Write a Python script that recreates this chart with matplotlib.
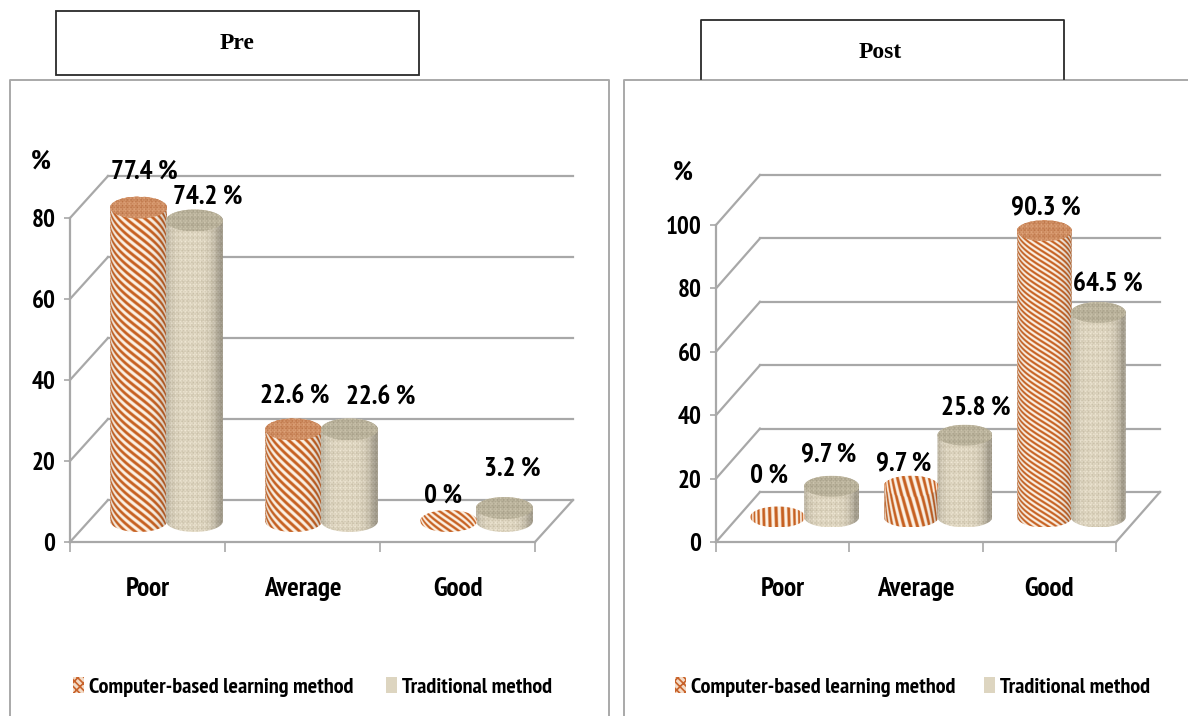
import numpy as np
import matplotlib
matplotlib.use("Agg")
import matplotlib.pyplot as plt
from matplotlib.patches import PathPatch, Patch, Rectangle
from matplotlib.path import Path

plt.rcParams['font.family'] = ['PT Sans Narrow', 'Liberation Sans', 'DejaVu Sans']
plt.rcParams['font.weight'] = 'bold'
plt.rcParams['hatch.linewidth'] = 1.2

categories = ["Poor", "Average", "Good"]
pre_computer = [77.4, 22.6, 0]
pre_traditional = [74.2, 22.6, 3.2]
post_computer = [0, 9.7, 90.3]
post_traditional = [9.7, 25.8, 64.5]
pre_ticks = [0, 20, 40, 60, 80]
post_ticks = [0, 20, 40, 60, 80, 100]
series_names = ["Computer-based learning method", "Traditional method"]

W, H = 1188, 716
GRID = "#A8A8A8"
ORANGE = np.array([0.78, 0.38, 0.13])
CREAM = np.array([0.99, 0.95, 0.90])


def px_rect(x0, x1, y_bottom, y_top):
    return [x0 / W, 1 - y_bottom / H, (x1 - x0) / W, (y_bottom - y_top) / H]


def stripes(nx, ny, angle, period, step=0.5):
    # stripe pattern wrapped round the cylinder, sizes in screen pixels
    u = np.linspace(-0.995, 0.995, nx)
    x = np.arcsin(u) * nx * step / 2
    y = np.arange(ny) * step
    xx, yy = np.meshgrid(x, y)
    a = np.radians(angle)
    t = 0.5 + 0.5 * np.sin(2 * np.pi * (-xx * np.sin(a) + yy * np.cos(a)) / period)
    return np.clip((t - 0.5) * 2.0 + 0.47, 0, 1)


def weave(nx, ny, step=0.5):
    # woven look: fine crossing threads plus some thicker ones
    x = np.arange(nx) * step
    y = np.arange(ny) * step
    xx, yy = np.meshgrid(x, y)
    a = np.sin(2 * np.pi * xx / 3.3) * np.sin(2 * np.pi * yy / 3.7)
    bx = np.sin(2 * np.pi * xx / 7.3) * np.sin(2 * np.pi * xx / 2.9)
    by = np.sin(2 * np.pi * yy / 6.1) * np.sin(2 * np.pi * yy / 3.1)
    return np.clip(0.55 + 0.25 * a + 0.2 * bx + 0.2 * by, 0, 1)


def side_shade(nx, ny, low=0.72):
    u = np.linspace(-1, 1, nx)
    s = low + (1 - low) * np.clip(1 - (u + 0.12) ** 4, 0, 1)
    return np.tile(s[None, :, None], (ny, 1, 1))


def body_texture(kind, nx, ny, angle, period):
    if kind == 0:
        t = stripes(nx, ny, angle, period)[..., None]
        img = CREAM * (1 - t) + ORANGE * t
        return np.clip(img * side_shade(nx, ny, 0.86), 0, 1)
    t = weave(nx, ny)[..., None]
    img = np.array([0.74, 0.70, 0.60]) * (1 - t) + np.array([0.97, 0.94, 0.87]) * t
    return np.clip(img * side_shade(nx, ny, 0.74), 0, 1)


def top_texture(kind, nx, ny, angle, period, plain_stripes):
    if kind == 0 and plain_stripes:
        t = stripes(nx, ny, angle, period)[..., None]
        return CREAM * (1 - t) + ORANGE * t
    t = weave(nx, ny)[..., None]
    if kind == 0:
        return np.array([0.70, 0.40, 0.22]) * (1 - t) + np.array([0.90, 0.68, 0.52]) * t
    return np.array([0.60, 0.57, 0.48]) * (1 - t) + np.array([0.83, 0.80, 0.71]) * t


def cylinder(ax, fig, xc, hw, y0, value, ry, kind, angle, period, plain_top):
    # body and lid are textured images clipped to the cylinder outline
    th = np.linspace(0, np.pi, 60)
    y1 = y0 + value
    sx = ax.transData.transform((1, 0))[0] - ax.transData.transform((0, 0))[0]
    sy = ax.transData.transform((0, 1))[1] - ax.transData.transform((0, 0))[1]
    nx = max(int(2 * hw * sx * 2), 2)
    if value > 0:
        bx = np.r_[xc - hw * np.cos(th), xc + hw * np.cos(th)]
        by = np.r_[y0 - ry * np.sin(th), y1 + ry * np.sin(th)]
        ny = max(int((value + 2 * ry) * sy * 2), 2)
        im = ax.imshow(body_texture(kind, nx, ny, angle, period), aspect='auto',
                       extent=(xc - hw, xc + hw, y0 - ry, y1 + ry), zorder=3,
                       interpolation='antialiased')
        im.set_clip_box(fig.bbox)
        im.set_clip_path(PathPatch(Path(np.c_[bx, by]), transform=ax.transData))
    th = np.linspace(0, 2 * np.pi, 90)
    ny = max(int(2 * ry * sy * 2), 2)
    im = ax.imshow(top_texture(kind, nx, ny, angle, period, plain_top), aspect='auto',
                   extent=(xc - hw, xc + hw, y1 - ry, y1 + ry), zorder=3.1,
                   interpolation='antialiased')
    im.set_clip_box(fig.bbox)
    im.set_clip_path(PathPatch(Path(np.c_[xc + hw * np.cos(th), y1 + ry * np.sin(th)]),
                               transform=ax.transData))


def panel(fig, rect_px, ymax, ticks, computer, traditional, depth_px, hw_px, ry_px,
          stripe_style, label_offsets, legend_at, col_space):
    x0, x1, yb, yt = rect_px
    ax = fig.add_axes(px_rect(x0, x1, yb, yt), facecolor='none', zorder=2)
    ax.set_xlim(0, 3)
    ax.set_ylim(0, ymax)
    per_x = (x1 - x0) / 3
    per_y = (yb - yt) / ymax
    dx = depth_px[0] / per_x
    dy = depth_px[1] / per_y

    # side wall, back wall and floor
    for t in ticks:
        ax.plot([0, dx], [t, t + dy], color=GRID, lw=1.6, clip_on=False, zorder=1)
        ax.plot([dx, 3 + dx], [t + dy, t + dy], color=GRID, lw=1.6, clip_on=False, zorder=1)
    ax.plot([3, 3 + dx], [0, dy], color=GRID, lw=1.6, clip_on=False, zorder=1)

    for s in ('top', 'right'):
        ax.spines[s].set_visible(False)
    for s in ('left', 'bottom'):
        ax.spines[s].set_color(GRID)
        ax.spines[s].set_linewidth(1.6)
    ax.set_yticks(ticks)
    ax.tick_params(axis='y', length=4.5, width=1.2, color=GRID, labelsize=18, pad=6)
    ax.set_xticks([0.5, 1.5, 2.5], categories)
    ax.set_xticks([0, 1, 2, 3], minor=True)
    ax.tick_params(axis='x', which='major', length=0, labelsize=19.5, pad=25.5)
    ax.tick_params(axis='x', which='minor', length=7.5, width=1.2, color=GRID)

    # cylinders sit halfway into the floor depth
    hw = hw_px / per_x
    ry = ry_px / per_y
    offs = [-hw_px * 0.98 / per_x, hw_px * 0.98 / per_x]
    for i in range(3):
        xc = i + 0.5 + dx / 2
        angle, period, plain = stripe_style[i]
        for kind, vals in enumerate((computer, traditional)):
            cylinder(ax, fig, xc + offs[kind], hw, dy / 2, vals[i], ry, kind, angle, period,
                     plain and kind == 0)
            ox, oy = label_offsets[kind][i]
            ax.annotate(f"{vals[i]:g} %", xy=(xc + offs[kind], dy / 2 + vals[i]),
                        xytext=(ox * 0.72, oy * 0.72), textcoords='offset points',
                        ha='center', va='center', fontsize=19.5, color='black',
                        annotation_clip=False, zorder=5)

    ax.set_xlim(0, 3)
    ax.set_ylim(0, ymax)
    handles = [Patch(facecolor='#F3DCC8', edgecolor='#C8622A', linewidth=0, hatch='\\\\\\\\\\///'),
               Patch(facecolor='#DDD5C0', edgecolor='none')]
    fig.legend(handles, series_names, loc='center',
               bbox_to_anchor=(legend_at[0] / W, 1 - legend_at[1] / H), ncol=2, frameon=False,
               fontsize=16, handlelength=0.5, handleheight=0.68, handletextpad=0.24,
               columnspacing=col_space, borderpad=0, borderaxespad=0)
    return ax


fig = plt.figure(figsize=(W / 100, H / 100), dpi=100, facecolor='white')

# frames and title boxes, laid out in screen pixels
bg = fig.add_axes([0, 0, 1, 1], zorder=1)
bg.set_xlim(0, W)
bg.set_ylim(H, 0)
bg.axis('off')
bg.plot([10, 10, 608.5, 608.5], [H, 79.5, 79.5, H], color='#A9A9A9', lw=1.4)
bg.plot([623.5, 623.5, W], [H, 79.5, 79.5], color='#A9A9A9', lw=1.4)
bg.add_patch(Rectangle((55.5, 11), 363.5, 64, facecolor='white', edgecolor='#2A2A2A', lw=1.3))
bg.plot([700.5, 700.5, 1063.5, 1063.5], [79, 19.5, 19.5, 79], color='#2A2A2A', lw=1.3)
bg.text(237, 43.5, "Pre", family=['Liberation Serif'], fontweight='bold',
        fontsize=17, ha='center', va='center')
bg.text(880, 53, "Post", family=['Liberation Serif'], fontweight='bold',
        fontsize=17, ha='center', va='center')
bg.text(41, 162, "%", fontsize=20, ha='center', va='center')
bg.text(683, 173, "%", fontsize=20, ha='center', va='center')

panel(fig, (70, 535, 542, 218), 80, pre_ticks, pre_computer, pre_traditional,
      (38, 42), 28.5, 11, [(38, 6.0, False), (42, 6.0, False), (35, 5.0, True)],
      [[(5.5, 35.5), (1.5, 32.5), (-5.5, 25)], [(13.5, 23.5), (31.5, 31.5), (7.5, 39)]],
      (312.5, 687), 1.44)
panel(fig, (716, 1116, 542, 225), 100, post_ticks, post_computer, post_traditional,
      (44, 50), 27.5, 10.5, [(88, 6.5, True), (74, 6.5, True), (32, 4.5, False)],
      [[(-8.7, 41), (-7, 23), (1.7, 23)], [(-2.7, 32), (11, 28), (9.7, 27.6)]],
      (912.5, 687), 1.26)

fig.savefig("out.png", dpi=100)
